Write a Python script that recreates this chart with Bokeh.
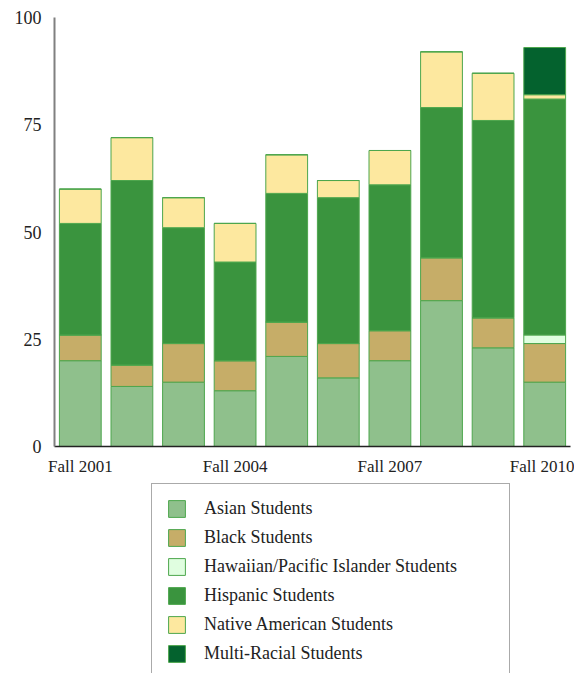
import numpy as np
from bokeh.plotting import figure
from bokeh.models import Range1d, FixedTicker, Legend, LegendItem, ColumnDataSource
from bokeh.layouts import column
from bokeh.embed import file_html
from bokeh.resources import INLINE

terms = ["Fall 2001", "Fall 2002", "Fall 2003", "Fall 2004", "Fall 2005",
         "Fall 2006", "Fall 2007", "Fall 2008", "Fall 2009", "Fall 2010"]
asian = [20, 14, 15, 13, 21, 16, 20, 34, 23, 15]
black = [6, 5, 9, 7, 8, 8, 7, 10, 7, 9]
hawaiian = [0, 0, 0, 0, 0, 0, 0, 0, 0, 2]
hispanic = [26, 43, 27, 23, 30, 34, 34, 35, 46, 55]
native = [8, 10, 7, 9, 9, 4, 8, 13, 11, 1]
multi = [0, 0, 0, 0, 0, 0, 0, 0, 0, 11]

series_names = ["Asian Students", "Black Students", "Hawaiian/Pacific Islander Students",
                "Hispanic Students", "Native American Students", "Multi-Racial Students"]
series_keys = ["asian", "black", "hawaiian", "hispanic", "native", "multi"]
colors = ["#8fc08c", "#c6ad68", "#e0fee0", "#3a943e", "#fde89f", "#04622e"]
y_ticks = [0, 25, 50, 75, 100]
shown_terms = ["Fall 2001", "Fall 2004", "Fall 2007", "Fall 2010"]

FONT = "Liberation Serif"
OUTLINE = "#4da64d"

x = list(range(len(terms)))
source = ColumnDataSource(data=dict(x=x, asian=asian, black=black, hawaiian=hawaiian,
                                    hispanic=hispanic, native=native, multi=multi))

TOP_H = 480
p = figure(width=574, height=TOP_H, output_backend="svg", toolbar_location=None,
           x_range=Range1d(-0.5, len(terms) - 0.5), y_range=Range1d(0, 100),
           min_border_left=54, min_border_right=4, min_border_top=17,
           min_border_bottom=TOP_H - 17 - 429)
p.outline_line_color = None
p.xgrid.visible = False
p.ygrid.visible = False

renderers = p.vbar_stack(series_keys, x="x", width=0.81, source=source,
                         fill_color=colors, line_color=OUTLINE, line_width=1)

# y axis
p.yaxis.ticker = FixedTicker(ticks=y_ticks)
p.yaxis.minor_tick_line_color = None
p.yaxis.major_tick_line_color = None
p.yaxis.major_tick_out = 0
p.yaxis.major_tick_in = 0
p.yaxis.major_label_standoff = 13
p.yaxis.axis_line_color = "#808080"
p.yaxis.axis_line_width = 2
p.yaxis.major_label_text_font = FONT
p.yaxis.major_label_text_font_size = "18px"
p.yaxis.major_label_text_color = "#222222"

# x axis
p.xaxis.ticker = FixedTicker(ticks=[terms.index(t) for t in shown_terms])
p.xaxis.major_label_overrides = {i: t for i, t in enumerate(terms)}
p.xaxis.minor_tick_line_color = None
p.xaxis.major_tick_line_color = None
p.xaxis.major_tick_out = 0
p.xaxis.major_tick_in = 0
p.xaxis.major_label_standoff = 10
p.xaxis.axis_line_color = "#222222"
p.xaxis.axis_line_width = 1.5
p.xaxis.major_label_text_font = FONT
p.xaxis.major_label_text_font_size = "17px"
p.xaxis.major_label_text_color = "#222222"

# legend panel (separate figure below the chart, frames aligned with the chart)
LEG_H = 673 - TOP_H
q = figure(width=574, height=LEG_H, output_backend="svg", toolbar_location=None,
           x_axis_type=None, y_axis_type=None, x_range=Range1d(0, 1), y_range=Range1d(0, 1),
           min_border=0, min_border_top=0, min_border_bottom=0)
q.outline_line_color = None
q.xgrid.visible = False
q.ygrid.visible = False
# legend proxies: NaN data, so nothing is drawn except their legend swatches
proxy = ColumnDataSource(data=dict(x=np.array([np.nan]), top=np.array([np.nan])))
leg_renderers = [q.vbar(x="x", top="top", width=0.5, source=proxy,
                        fill_color=c, line_color=OUTLINE, line_width=1) for c in colors]

items = [LegendItem(label=n, renderers=[r]) for n, r in zip(series_names, leg_renderers)]
legend = Legend(items=items, location=(97, -6), orientation="vertical",
                label_text_font=FONT, label_text_font_size="18px", label_text_color="#222222",
                glyph_width=21, glyph_height=21, spacing=8, padding=14, margin=0,
                label_standoff=17, label_width=291, label_height=21,
                border_line_color="#555555", border_line_width=1.5,
                background_fill_color="white", background_fill_alpha=1.0)
q.add_layout(legend, "center")

layout = column(p, q, spacing=0)
open("out.html", "w").write(file_html(layout, INLINE))
